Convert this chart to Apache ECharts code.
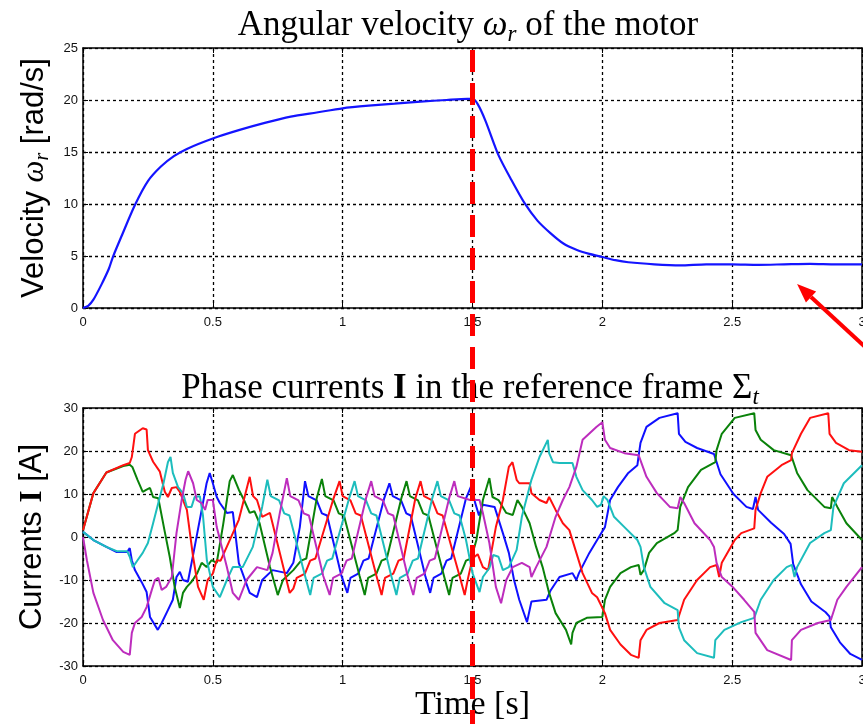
<!DOCTYPE html>
<html>
<head>
<meta charset="utf-8">
<script src="https://cdn.jsdelivr.net/npm/echarts@6/dist/echarts.min.js"></script>
<style>
  html, body { margin: 0; padding: 0; background: #fff; }
  #chart { width: 863px; height: 724px; }
</style>
</head>
<body>
<div id="chart"></div>
<script>
// time axis ticks (s)
const timeTicks = [0, 0.5, 1, 1.5, 2, 2.5, 3]

// angular velocity of the motor
const velT = [0, 0.02, 0.04, 0.07, 0.1, 0.115, 0.15, 0.2, 0.25, 0.3, 0.35, 0.4, 0.5, 0.6, 0.7, 0.8, 0.9, 1.0, 1.1, 1.2, 1.3, 1.4, 1.48, 1.5, 1.52, 1.55, 1.6, 1.65, 1.7, 1.75, 1.8, 1.85, 1.9, 1.95, 2.0, 2.05, 2.1, 2.2, 2.3, 2.4, 2.5, 2.6, 2.7, 2.8, 2.9, 3.0]
const velW = [0, 0.2, 0.8, 2.2, 3.8, 4.9, 7.0, 9.9, 12.2, 13.6, 14.6, 15.3, 16.3, 17.1, 17.8, 18.4, 18.8, 19.2, 19.45, 19.65, 19.85, 20.0, 20.1, 20.1, 19.6, 18.0, 14.7, 12.3, 10.1, 8.4, 7.2, 6.2, 5.6, 5.2, 4.9, 4.6, 4.4, 4.2, 4.1, 4.2, 4.2, 4.15, 4.2, 4.25, 4.2, 4.2]

// phase currents [t, I]
const blueI = [[0,1.2],[0.04,-0.7],[0.09,-2.3],[0.13,-3.5],[0.17,-3.5],[0.18,-2.6],[0.188,-5.4],[0.2,-7.7],[0.226,-10.5],[0.245,-12.8],[0.258,-18.6],[0.288,-21.6],[0.303,-20],[0.327,-17],[0.346,-14.6],[0.36,-9.3],[0.373,-8.1],[0.385,-10],[0.404,-10.4],[0.43,-2.3],[0.457,6.3],[0.476,12.5],[0.488,14.9],
  [0.5,12.5],[0.515,9.3],[0.527,7.9],[0.554,5.6],[0.577,5.8],[0.6,-6],[0.642,-13],[0.67,-14],[0.69,-10],[0.73,-7.7],[0.785,-8.4],[0.81,-6],[0.835,2.3],[0.855,13],
  [0.868,9.5],[0.9,8.5],[0.92,5.5],[0.94,5],[0.995,-9],[1.018,-13],[1.03,-9.5],[1.06,-8.5],[1.08,-5.5],[1.1,-5],[1.16,9],[1.18,12.5],
  [1.193,9.5],[1.225,8.5],[1.245,5.5],[1.262,5],[1.318,-9],[1.337,-13],[1.35,-9.5],[1.38,-8.5],[1.4,-5.5],[1.418,-5],[1.475,9],[1.496,12],
  [1.51,8],[1.525,5],[1.54,7.5],[1.585,7],[1.617,0.9],[1.64,-3.7],[1.66,-10],[1.68,-14.6],[1.71,-19.8],[1.727,-15],[1.785,-14.6],[1.8,-12.5],[1.835,-9.3],[1.885,-8.4],[1.9,-10],[1.91,-8.4],[1.95,-3.7],[1.98,-0.7],
  [2.01,2.3],[2.03,8.6],[2.06,11.6],[2.1,14.9],[2.135,16.7],[2.14,19],[2.147,21.9],[2.17,25.6],[2.22,27.7],[2.29,28.8],[2.295,24],[2.32,22.1],[2.365,20.7],[2.43,19.3],[2.455,14.6],[2.505,10],[2.555,7],[2.58,6.5],[2.59,9.3],[2.6,6.3],[2.65,3.3],[2.7,0.7],[2.725,-1.6],[2.735,-6.3],[2.765,-11],[2.805,-15],[2.86,-17.5],[2.875,-18.5],[2.88,-21],[2.915,-24.5],[2.955,-27.2],[3.0,-28.6]]

const greenI = [[0,1.6],[0.04,10.2],[0.09,15],[0.155,16.5],[0.18,16.8],[0.19,16.3],[0.21,13.3],[0.23,10.5],[0.245,11],[0.258,11.4],[0.27,9.3],[0.29,9],[0.315,1.2],[0.334,-4.6],[0.353,-11.6],[0.373,-16.5],[0.385,-13],[0.4,-11.6],[0.418,-10.4],[0.44,-8.4],[0.457,-6],[0.476,-7],[0.495,-5.4],[0.515,-6],[0.54,3],[0.565,13],[0.577,14.4],[0.6,11],[0.62,8.6],[0.642,5.6],[0.66,6],[0.68,3.2],[0.72,-7],[0.75,-13.5],[0.77,-10],[0.81,-7.7],[0.84,-5.5],[0.86,-5],[0.9,9],[0.92,13.5],
  [0.933,9.5],[0.965,8.5],[0.985,5.5],[1.005,5],[1.065,-9],[1.085,-13.5],[1.098,-9.5],[1.13,-8.5],[1.15,-5.5],[1.17,-5],[1.226,9],[1.246,13],
  [1.259,9.5],[1.29,8.5],[1.31,5.5],[1.33,5],[1.39,-9],[1.41,-13.5],[1.423,-9.5],[1.455,-8.5],[1.475,-5.5],[1.495,-5],[1.515,-0.7],[1.54,8.6],[1.565,13.7],[1.577,9.3],[1.6,8.6],[1.63,5.6],[1.655,5.1],[1.673,8.6],[1.69,7],[1.72,3.2],[1.745,-2.3],[1.77,-7],[1.795,-13],[1.82,-17.7],[1.86,-21.6],[1.88,-25],[1.885,-22.3],[1.9,-20],[1.94,-18.8],[2.0,-18.6],
  [2.01,-14.6],[2.03,-11.6],[2.07,-8.4],[2.11,-7],[2.14,-6.5],[2.147,-8.8],[2.16,-7.7],[2.18,-3.7],[2.21,-1.4],[2.277,0.9],[2.29,1.6],[2.3,7],[2.33,11.6],[2.38,15.6],[2.435,17.4],[2.44,20.2],[2.46,24],[2.51,27.7],[2.585,28.8],[2.59,24.9],[2.61,22.6],[2.66,20.2],[2.727,19],[2.75,14.9],[2.79,10.9],[2.855,7],[2.88,6.7],[2.885,9.3],[2.905,7],[2.94,3.2],[3.0,-0.7]]

const redI = [[0,1.6],[0.04,10.2],[0.09,15],[0.155,16.7],[0.18,17.2],[0.188,18.6],[0.2,24],[0.23,25.3],[0.245,25],[0.25,20.2],[0.27,17.5],[0.296,15.2],[0.315,10.5],[0.327,9.3],[0.342,11.4],[0.36,11.6],[0.373,10.5],[0.4,6.3],[0.424,-4.6],[0.443,-11.6],[0.465,-14.6],[0.48,-10],[0.5,-8.5],[0.515,-5.4],[0.53,-5.5],[0.6,4],[0.642,14],[0.655,9.5],[0.67,8.6],[0.69,4.7],[0.72,5.6],[0.758,-3.7],[0.796,-13],[0.81,-12],[0.823,-9.5],[0.855,-8.5],[0.875,-5.5],[0.895,-5],[0.965,9],[0.988,13],
  [1.0,9.5],[1.03,8.5],[1.05,5.5],[1.07,5],[1.13,-9],[1.15,-13.5],[1.163,-9.5],[1.195,-8.5],[1.215,-5.5],[1.235,-5],[1.28,9],[1.3,13],
  [1.313,9.5],[1.345,8.5],[1.365,5.5],[1.385,5],[1.45,-9],[1.47,-13.5],[1.483,-9.5],[1.5,-5],[1.52,-4],[1.54,-7],[1.56,-7.7],[1.59,2.3],[1.617,8.6],[1.64,16.3],[1.654,17.4],[1.67,13.3],[1.68,12.5],[1.72,12.5],[1.727,10.2],[1.758,8.6],[1.785,7.9],[1.795,9.3],[1.82,6.3],[1.848,3.2],[1.873,1.6],[1.9,-3.7],[1.924,-8.4],[1.96,-13],[1.98,-14],
  [2.01,-17.7],[2.03,-21.6],[2.07,-25],[2.11,-27.4],[2.14,-28.1],[2.147,-24],[2.17,-21.6],[2.22,-20],[2.29,-19.3],[2.315,-14.6],[2.365,-10],[2.415,-7],[2.44,-6.5],[2.45,-9.3],[2.46,-6],[2.51,-0.7],[2.535,0.9],[2.585,2],[2.59,6.3],[2.61,10.2],[2.635,14],[2.69,16.7],[2.727,17.9],[2.73,19.5],[2.765,24],[2.8,27.7],[2.87,28.8],[2.875,24],[2.9,21.9],[2.95,20.2],[3.0,19.8]]

const cyanI = [[0,1.2],[0.04,-0.7],[0.09,-2.3],[0.13,-3.3],[0.17,-3.3],[0.18,-4.6],[0.192,-7],[0.21,-5.4],[0.23,-3.7],[0.25,-1.4],[0.27,3.2],[0.29,7.9],[0.31,12.5],[0.327,17.4],[0.337,18.6],[0.346,14.9],[0.366,11.6],[0.385,10.2],[0.4,7],[0.418,7],[0.43,9.3],[0.45,9.5],[0.462,5],[0.477,-5.4],[0.5,-11.6],[0.527,-14],[0.554,-10],[0.577,-7],[0.615,-7],[0.654,-2.3],[0.69,7],[0.71,13.3],
  [0.723,9.5],[0.755,8.5],[0.775,5.5],[0.795,5],[0.855,-9],[0.875,-13.5],[0.888,-9.5],[0.92,-8.5],[0.94,-5.5],[0.96,-5],[1.025,9],[1.046,13],
  [1.059,9.5],[1.09,8.5],[1.11,5.5],[1.13,5],[1.187,-9],[1.207,-13.5],[1.22,-9.5],[1.25,-8.5],[1.27,-5.5],[1.29,-5],[1.345,9],[1.365,13],
  [1.378,9.5],[1.41,8.5],[1.43,5.5],[1.45,5],[1.475,-0.7],[1.5,-8.4],[1.527,-12.8],[1.54,-9.3],[1.565,-7.2],[1.58,-4.2],[1.6,-4.6],[1.617,-7.7],[1.64,-7],[1.67,-3],[1.69,4.7],[1.727,13.3],[1.758,18.6],[1.79,22.6],[1.795,19.5],[1.81,17.4],[1.835,17.2],[1.885,17.2],[1.9,14],[1.924,10.9],[1.96,8.6],[1.98,7],[1.995,7.5],[2.005,9.5],[2.02,8.6],[2.045,4.7],[2.085,2.3],[2.135,-0.7],[2.147,-2.3],[2.16,-7],[2.185,-11.6],[2.24,-15.4],[2.29,-17],[2.295,-21],[2.315,-24],[2.365,-27],[2.43,-28.1],[2.435,-24],[2.47,-21.6],[2.535,-19.8],[2.585,-18.8],[2.61,-14.6],[2.66,-10],[2.71,-7],[2.73,-6.5],[2.74,-9.3],[2.75,-7],[2.8,-1.4],[2.855,0.9],[2.88,1.6],[2.89,7],[2.93,12.5],[3.0,16.7]]

const magentaI = [[0,0],[0.015,-5.4],[0.04,-13],[0.077,-19.3],[0.115,-24],[0.155,-26.7],[0.18,-27.4],[0.188,-22.3],[0.2,-20],[0.226,-18.6],[0.245,-16.3],[0.265,-12.3],[0.277,-10],[0.29,-9.5],[0.303,-12.3],[0.32,-11.6],[0.342,-9.3],[0.36,0.9],[0.38,8.6],[0.395,13.3],[0.405,15.3],[0.424,12.5],[0.438,8.6],[0.457,7.9],[0.47,6.3],[0.48,8.6],[0.5,8.6],[0.515,2.3],[0.554,-7],[0.577,-13],[0.6,-14.6],[0.63,-10],[0.67,-7],[0.71,-7.7],[0.73,-3.7],[0.758,5.6],[0.785,13.7],
  [0.798,9.5],[0.83,8.5],[0.85,5.5],[0.87,5],[0.925,-9],[0.95,-13.5],[0.963,-9.5],[0.995,-8.5],[1.015,-5.5],[1.035,-5],[1.09,9],[1.11,13],
  [1.123,9.5],[1.155,8.5],[1.175,5.5],[1.195,5],[1.25,-9],[1.272,-13.5],[1.285,-9.5],[1.315,-8.5],[1.335,-5.5],[1.355,-5],[1.41,9],[1.43,13],
  [1.443,9.5],[1.49,8.6],[1.527,8.6],[1.54,5.6],[1.565,-1.4],[1.59,-11.6],[1.61,-15.4],[1.63,-10],[1.655,-7],[1.69,-6],[1.72,-7],[1.727,-9.3],[1.745,-7],[1.785,-2.3],[1.82,4.7],[1.848,8.6],[1.873,11.6],[1.9,16.3],[1.924,22.6],[1.977,25.6],[2.0,26.7],
  [2.01,22.6],[2.03,20.7],[2.085,19.5],[2.14,19],[2.17,14],[2.21,10.2],[2.26,7],[2.29,6.7],[2.3,9.3],[2.315,7.9],[2.355,3.2],[2.415,-0.7],[2.43,-2.3],[2.44,-6],[2.46,-9.3],[2.5,-11.5],[2.546,-14.6],[2.585,-17.4],[2.59,-22.3],[2.635,-26.3],[2.727,-28.6],[2.73,-24],[2.765,-21.6],[2.83,-20],[2.88,-19.3],[2.905,-14.6],[2.94,-11.6],[3.0,-7]]

// annotations: switch time and the arrow (data coords of top panel)
const switchT = 1.5
const arrowTip = [2.75, 2.3]
const arrowTail = [3.04, -4.4]

const serif = 'Liberation Serif, Times New Roman, serif'
const sans = 'Liberation Sans, Arial, sans-serif'

const gridLine = { show: true, lineStyle: { color: '#000', type: [3, 3], width: 1.3 } }
const axisLine = { show: true, onZero: false, lineStyle: { color: '#000', width: 1.5 } }
const tick = { show: true, inside: true, length: 5, lineStyle: { color: '#000', width: 1 } }
const tickLabel = { color: '#111', fontFamily: sans, fontSize: 13 }

function timeAxis (gridIndex, position, labels, extra) {
  return Object.assign({
    gridIndex, position, type: 'value',
    min: timeTicks[0], max: timeTicks[timeTicks.length - 1], interval: 0.5,
    axisLine, axisTick: tick,
    axisLabel: labels ? { ...tickLabel, margin: 8 } : { show: false },
    splitLine: labels ? gridLine : { show: false }
  }, extra || {})
}
function valAxis (gridIndex, position, min, max, interval, labels, extra) {
  return Object.assign({
    gridIndex, position, type: 'value', min, max, interval,
    axisLine, axisTick: tick,
    axisLabel: labels ? { ...tickLabel, margin: 5 } : { show: false },
    splitLine: labels ? gridLine : { show: false }
  }, extra || {})
}

const titleRich = {
  n: { fontFamily: serif, fontWeight: 'normal', fontSize: 35, color: '#000', lineHeight: 40 },
  w: { fontFamily: serif, fontWeight: 'normal', fontStyle: 'italic', fontSize: 35, color: '#000', lineHeight: 40 },
  b: { fontFamily: serif, fontWeight: 'bold', fontSize: 35, color: '#000', lineHeight: 40 },
  s: { fontFamily: serif, fontWeight: 'normal', fontStyle: 'italic', fontSize: 23, color: '#000', lineHeight: 14, verticalAlign: 'bottom' }
}
const nameRich = {
  v: { fontFamily: sans, fontSize: 31, color: '#000', lineHeight: 36 },
  w: { fontFamily: serif, fontStyle: 'italic', fontSize: 31, color: '#000', lineHeight: 36 },
  b: { fontFamily: serif, fontWeight: 'bold', fontSize: 31, color: '#000', lineHeight: 36 },
  s: { fontFamily: serif, fontStyle: 'italic', fontSize: 20, color: '#000', lineHeight: 12, verticalAlign: 'bottom' }
}

const phases = [
  { data: blueI, color: '#1010ff' },
  { data: greenI, color: '#0a820a' },
  { data: redI, color: '#ff1010' },
  { data: cyanI, color: '#1dbdbd' },
  { data: magentaI, color: '#bd2dbd' }
]

const titleStyle = { fontWeight: 'normal', fontFamily: serif, fontSize: 35, rich: titleRich }

const option = {
  backgroundColor: '#fff',
  animation: false,
  title: [
    { text: '{n|Angular velocity }{w|ω}{s|r}{n| of the motor}', left: 468, top: 6, textAlign: 'center', padding: 0, textStyle: titleStyle },
    { text: '{n|Phase currents }{b|I}{n| in the reference frame Σ}{s|t}', left: 470, top: 369, textAlign: 'center', padding: 0, textStyle: titleStyle }
  ],
  grid: [
    { left: 83, top: 48, right: 1, height: 260, outerBoundsMode: 'none' },
    { left: 83, top: 408, right: 1, height: 258, outerBoundsMode: 'none' }
  ],
  xAxis: [
    timeAxis(0, 'bottom', true),
    timeAxis(0, 'top', false),
    timeAxis(1, 'bottom', true, {
      name: 'Time [s]', nameLocation: 'middle', nameGap: 15,
      nameTextStyle: { fontFamily: serif, fontSize: 34, color: '#000' }
    }),
    timeAxis(1, 'top', false)
  ],
  yAxis: [
    valAxis(0, 'left', 0, 25, 5, true, {
      name: '{v|Velocity }{w|ω}{s|r}{v| [rad/s]}', nameLocation: 'middle', nameRotate: 90, nameGap: 22,
      nameTextStyle: { rich: nameRich }
    }),
    valAxis(0, 'right', 0, 25, 5, false),
    valAxis(1, 'left', -30, 30, 10, true, {
      name: '{v|Currents }{b|I}{v| [A]}', nameLocation: 'middle', nameRotate: 90, nameGap: 22,
      nameTextStyle: { rich: nameRich }
    }),
    valAxis(1, 'right', -30, 30, 10, false)
  ],
  series: [
    {
      type: 'line', xAxisIndex: 0, yAxisIndex: 0,
      data: velT.map((t, i) => [t, velW[i]]),
      showSymbol: false, smooth: 0.25,
      lineStyle: { color: '#1414ff', width: 2.2 }
    }
  ].concat(phases.map(p => ({
    type: 'line', xAxisIndex: 2, yAxisIndex: 2,
    data: p.data, showSymbol: false,
    lineStyle: { color: p.color, width: 2 }
  })))
}

const chart = echarts.init(document.getElementById('chart'), null, { renderer: 'canvas' })
chart.setOption(option)

// red dashed switch line at t = 1.5 over both panels, and the arrow
const xs = chart.convertToPixel({ xAxisIndex: 0 }, switchT)
const yTop = chart.convertToPixel({ yAxisIndex: 0 }, 25)
const tip = chart.convertToPixel({ xAxisIndex: 0, yAxisIndex: 0 }, arrowTip)
const tail = chart.convertToPixel({ xAxisIndex: 0, yAxisIndex: 0 }, arrowTail)
const dx = tip[0] - tail[0], dy = tip[1] - tail[1]
const len = Math.sqrt(dx * dx + dy * dy)
const ux = dx / len, uy = dy / len
const headL = 19, headW = 7.5
const base = [tip[0] - ux * headL, tip[1] - uy * headL]

chart.setOption({
  graphic: [
    {
      type: 'line', z: 100, silent: true,
      shape: { x1: xs, y1: yTop + 2, x2: xs, y2: 724 },
      style: { stroke: '#ff0000', lineWidth: 5, lineDash: [22, 11] }
    },
    {
      type: 'line', z: 100, silent: true,
      shape: { x1: tail[0], y1: tail[1], x2: base[0], y2: base[1] },
      style: { stroke: '#ff0000', lineWidth: 4 }
    },
    {
      type: 'polygon', z: 100, silent: true,
      shape: { points: [tip, [base[0] - uy * headW, base[1] + ux * headW], [base[0] + uy * headW, base[1] - ux * headW]] },
      style: { fill: '#ff0000' }
    }
  ]
})
</script>
</body>
</html>
